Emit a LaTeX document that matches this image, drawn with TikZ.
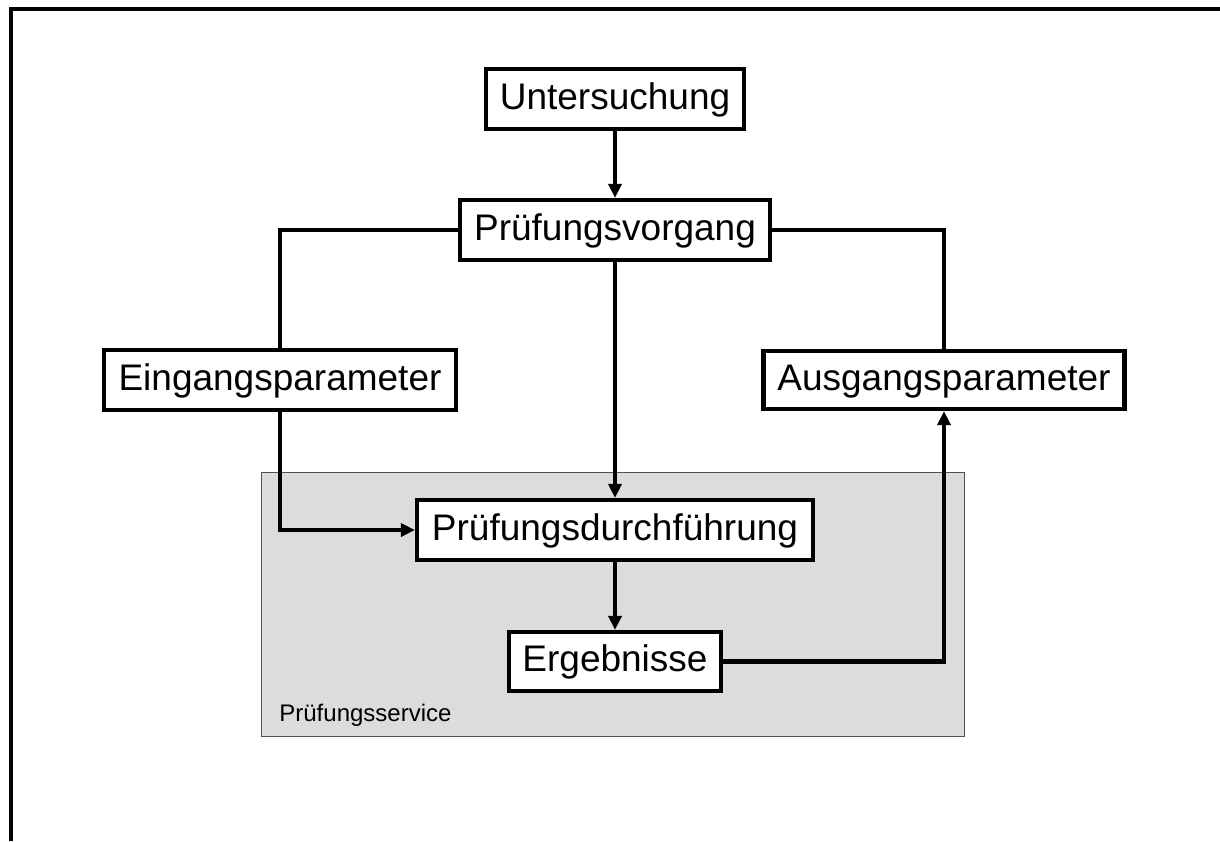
\documentclass[tikz,border=0pt]{standalone}
\usepackage{fontspec}
\setmainfont{Liberation Sans}
\usetikzlibrary{arrows.meta}
\definecolor{servicegray}{HTML}{DCDCDC}
\definecolor{serviceedge}{HTML}{505050}
\begin{document}
\begin{tikzpicture}[x=0.5pt,y=-0.5pt,
  procbox/.style={draw=black,fill=white,line width=2.1pt,inner sep=0pt,
    font=\fontsize{18.5}{21}\selectfont,minimum height=30pt,
    text height=13.5pt,text depth=3.5pt},
  link/.style={line width=2.1pt},
  flow/.style={line width=2.1pt,-{Triangle[length=7pt,width=6.5pt]}}]
  \useasboundingbox (0,0) rectangle (1220,841);
  % page frame (top and left edges)
  \draw[line width=1.6pt] (11,841) -- (11,9) -- (1220,9);
  % service area
  \draw[fill=servicegray,draw=serviceedge,line width=0.5pt] (261,472) rectangle (964,736);
  \node[anchor=base west,inner sep=0pt,font=\fontsize{12}{14}\selectfont] (svc) at (279,721) {Prüfungsservice};
  % process boxes
  \node[procbox,minimum width=129pt] (unt) at (615,99) {Untersuchung};
  \node[procbox,minimum width=155pt] (pv) at (615,230) {Prüfungsvorgang};
  \node[procbox,minimum width=176pt] (ein) at (280,380) {Eingangsparameter};
  \node[procbox,minimum width=180.5pt,minimum height=29pt] (aus) at (944,380) {Ausgangsparameter};
  \node[procbox,minimum width=198pt] (pd) at (615,530) {Prüfungsdurchführung};
  \node[procbox,minimum width=106pt,minimum height=29.5pt] (erg) at (615,661.5) {Ergebnisse};
  % connectors
  \draw[flow] (unt) -- (pv);
  \draw[flow] (pv) -- (pd);
  \draw[flow] (pd) -- (erg);
  \draw[link] (pv.west) -| (ein.north);
  \draw[flow] (ein.south) |- (pd.west);
  \draw[link] (pv.east) -| (aus.north);
  \draw[flow] (erg.east) -| (aus.south);
\end{tikzpicture}
\end{document}
